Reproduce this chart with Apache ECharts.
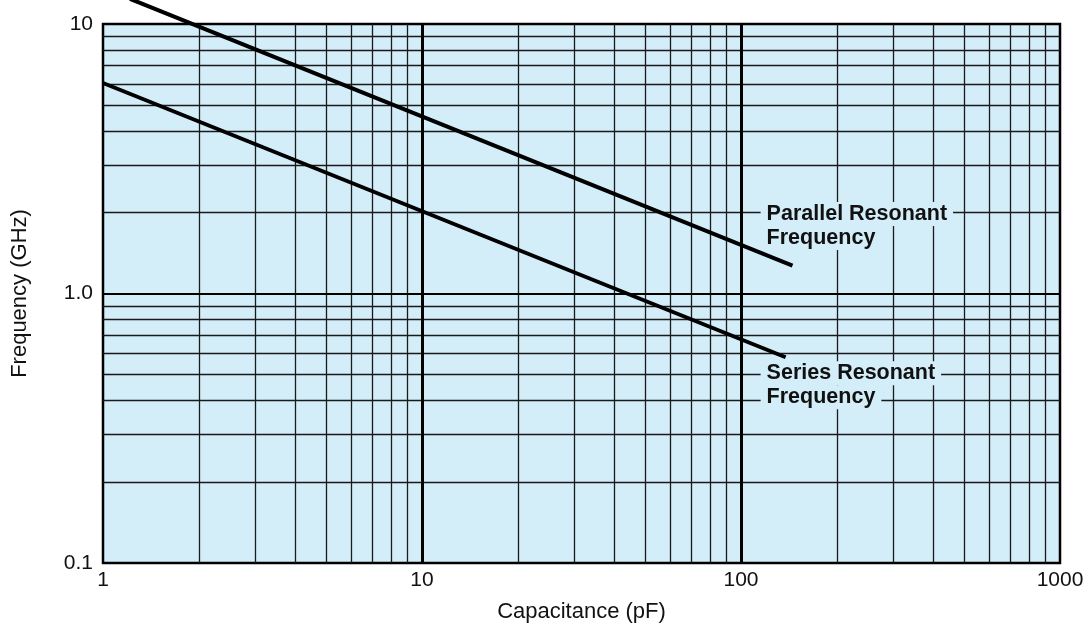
<!DOCTYPE html>
<html>
<head>
<meta charset="utf-8">
<script src="https://cdn.jsdelivr.net/npm/echarts@6/dist/echarts.min.js"></script>
<style>html,body{margin:0;padding:0;background:#fff}#c{width:1088px;height:641px}</style>
</head>
<body>
<div id="c"></div>
<script>
// Data
var parallelCurve = [[1.215, 12.4], [145, 1.27]];
var seriesCurve = [[1, 6.04], [138, 0.58]];
var xMinorGrid = [2,3,4,5,6,7,8,9,20,30,40,50,60,70,80,90,200,300,400,500,600,700,800,900];
var xMajorGrid = [10, 100];
var yMinorGrid = [0.2,0.3,0.4,0.5,0.6,0.7,0.8,0.9,2,3,4,5,6,7,8,9];
var yMajorGrid = [1];
var xTickLabels = {1:'1', 10:'10', 100:'100', 1000:'1000'};
var yTickLabels = {0.1:'0.1', 1:'1.0', 10:'10'};
var parallelLabel = ['Parallel Resonant', 'Frequency'];
var seriesLabel = ['Series Resonant', 'Frequency'];

var FONT = '"Liberation Sans", Arial, Helvetica, sans-serif';
var chart = echarts.init(document.getElementById('c'));

function fmtKey(map, v) {
  var keys = Object.keys(map);
  for (var i = 0; i < keys.length; i++) {
    if (Math.abs(parseFloat(keys[i]) - v) / v < 1e-6) return map[keys[i]];
  }
  return '';
}

var gridLines = [];
xMinorGrid.forEach(function (v) { gridLines.push({xAxis: v, lineStyle: {type: 'solid', width: 1.3, color: '#1a1a1a'}}); });
yMinorGrid.forEach(function (v) { gridLines.push({yAxis: v, lineStyle: {type: 'solid', width: 1.3, color: '#1a1a1a'}}); });
xMajorGrid.forEach(function (v) { gridLines.push({xAxis: v, lineStyle: {type: 'solid', width: 3, color: '#000'}}); });
yMajorGrid.forEach(function (v) { gridLines.push({yAxis: v, lineStyle: {type: 'solid', width: 2.2, color: '#000'}}); });

var richBox = {
  a: {fontFamily: FONT, fontWeight: 'bold', fontSize: 21.5, color: '#111',
      backgroundColor: '#d3edf9', padding: [1, 6, 1, 6], lineHeight: 24}
};

chart.setOption({
  animation: false,
  grid: {left: 103, right: 28, top: 24, bottom: 78, show: true,
         backgroundColor: '#d3edf9', borderColor: '#000', borderWidth: 2.5},
  xAxis: {
    type: 'log', logBase: 10, min: 1, max: 1000,
    name: 'Capacitance (pF)', nameLocation: 'middle', nameGap: 38,
    nameTextStyle: {fontFamily: FONT, fontSize: 22, color: '#111'},
    axisLine: {show: false}, axisTick: {show: false}, splitLine: {show: false},
    axisLabel: {fontFamily: FONT, fontSize: 21, color: '#111', margin: 7,
      formatter: function (v) { return fmtKey(xTickLabels, v); }}
  },
  yAxis: {
    type: 'log', logBase: 10, min: 0.1, max: 10,
    name: 'Frequency (GHz)', nameLocation: 'middle', nameGap: 72,
    nameTextStyle: {fontFamily: FONT, fontSize: 22, color: '#111'},
    axisLine: {show: false}, axisTick: {show: false}, splitLine: {show: false},
    axisLabel: {fontFamily: FONT, fontSize: 21, color: '#111', margin: 10,
      formatter: function (v) { return fmtKey(yTickLabels, v); }}
  },
  series: [
    {
      type: 'line', data: [], z: 2, silent: true,
      markLine: {silent: true, symbol: ['none', 'none'], label: {show: false},
                 animation: false, data: gridLines}
    },
    {
      type: 'line', data: parallelCurve, clip: false, symbol: 'none', z: 5,
      lineStyle: {color: '#000', width: 4}
    },
    {
      type: 'line', data: seriesCurve, clip: false, symbol: 'none', z: 5,
      lineStyle: {color: '#000', width: 4}
    },
    {
      type: 'scatter', z: 10, symbolSize: 1, itemStyle: {color: 'transparent', opacity: 1},
      data: [
        {value: [114.8, 1.78], label: {formatter: parallelLabel.map(function (s) { return '{a|' + s + '}'; }).join('\n')}},
        {value: [114.8, 0.457], label: {formatter: seriesLabel.map(function (s) { return '{a|' + s + '}'; }).join('\n')}}
      ],
      label: {show: true, position: 'right', distance: 0, align: 'left', color: '#111', opacity: 1, rich: richBox}
    }
  ]
});
</script>
</body>
</html>
